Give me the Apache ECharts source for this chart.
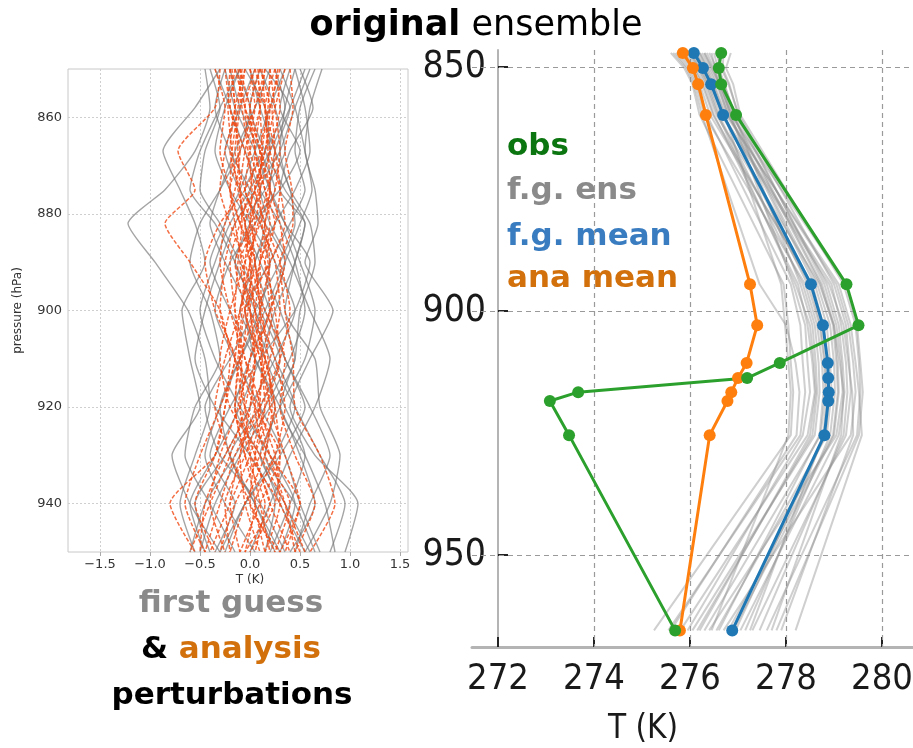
<!DOCTYPE html>
<html>
<head>
<meta charset="utf-8">
<script src="https://cdn.jsdelivr.net/npm/echarts@6/dist/echarts.min.js"></script>
<style>
  html, body { margin: 0; padding: 0; background: #fff; }
  #chart { width: 913px; height: 748px; }
</style>
</head>
<body>
<div id="chart"></div>
<script>
// ---- Left panel: temperature perturbations (K) on pressure levels (hPa) ----
const pertLevels = [850, 858, 867, 875, 882, 890, 900, 910, 920, 930, 940, 950];

// first-guess ensemble perturbations
const fgPerts = [
  [-0.45, -0.40, -0.55, -0.85, -1.22, -0.95, -0.62, -0.45, -0.40, -0.55, -0.70, -0.55],
  [-0.30, -0.55, -0.87, -0.70, -0.55, -0.45, -0.68, -0.60, -0.50, -0.78, -0.60, -0.30],
  [0.72, 0.60, 0.55, 0.65, 0.68, 0.55, 0.83, 0.60, 0.40, 0.65, 1.08, 0.95],
  [0.50, 0.63, 0.40, 0.30, 0.55, 0.45, 0.35, 0.65, 0.70, 0.90, 0.80, 0.55],
  [-0.20, -0.10, 0.10, 0.25, 0.05, -0.20, -0.35, -0.15, 0.10, 0.35, 0.50, 0.70],
  [0.10, 0.25, 0.35, 0.15, -0.05, 0.10, 0.30, 0.45, 0.20, -0.10, -0.35, -0.50],
  [-0.10, -0.25, -0.35, -0.20, 0.00, 0.20, 0.10, -0.10, -0.30, -0.45, -0.25, 0.05],
  [0.35, 0.20, 0.05, -0.10, -0.25, -0.40, -0.20, 0.05, 0.30, 0.50, 0.65, 0.40],
  [0.00, 0.10, 0.25, 0.40, 0.45, 0.30, 0.05, -0.20, -0.45, -0.30, 0.10, 0.35],
  [-0.35, -0.20, -0.05, 0.10, 0.30, 0.45, 0.55, 0.40, 0.15, -0.15, -0.45, -0.60],
  [0.60, 0.45, 0.30, 0.10, 0.20, 0.40, 0.60, 0.80, 0.65, 0.40, 0.20, 0.00],
  [0.20, 0.05, -0.15, -0.30, -0.40, -0.25, 0.00, 0.20, 0.45, 0.70, 0.95, 0.80],
  [-0.05, 0.15, 0.20, 0.05, -0.15, -0.30, -0.45, -0.55, -0.35, 0.00, 0.25, 0.15],
  [0.45, 0.55, 0.60, 0.45, 0.25, 0.05, 0.20, 0.35, 0.55, 0.30, -0.05, -0.25],
  [-0.25, -0.35, -0.20, 0.00, 0.15, 0.05, -0.10, 0.15, 0.35, 0.55, 0.40, 0.20],
  [0.25, 0.35, 0.15, -0.05, 0.10, 0.25, 0.45, 0.25, 0.00, -0.25, -0.55, -0.40],
  [-0.15, 0.00, -0.10, -0.30, -0.50, -0.60, -0.40, -0.30, -0.55, -0.65, -0.40, -0.15],
  [0.65, 0.50, 0.45, 0.55, 0.40, 0.20, -0.05, 0.05, 0.25, 0.15, 0.45, 0.65],
  [0.05, -0.10, -0.25, -0.10, 0.15, 0.35, 0.20, 0.00, -0.15, 0.10, 0.30, 0.55],
  [0.40, 0.30, 0.50, 0.30, 0.00, -0.15, 0.10, 0.30, 0.10, -0.20, 0.05, 0.30],
  [-0.40, -0.30, -0.45, -0.50, -0.30, -0.10, 0.15, 0.35, 0.60, 0.80, 0.60, 0.45],
  [0.15, 0.40, 0.25, 0.20, 0.35, 0.60, 0.45, 0.10, -0.20, -0.40, -0.15, -0.35],
  [0.30, 0.45, 0.55, 0.62, 0.50, 0.35, 0.15, -0.10, -0.30, -0.20, 0.05, 0.25],
  [-0.25, -0.15, 0.05, 0.20, 0.35, 0.50, 0.65, 0.55, 0.30, 0.10, 0.35, 0.60],
  [0.55, 0.40, 0.20, 0.00, -0.20, -0.35, -0.50, -0.35, -0.10, 0.20, 0.45, 0.30],
  [-0.10, -0.30, -0.50, -0.60, -0.35, -0.15, 0.05, 0.25, 0.45, 0.25, -0.05, -0.30],
  [0.10, 0.00, 0.15, 0.35, 0.55, 0.45, 0.25, 0.10, -0.10, -0.35, -0.60, -0.45],
  [0.45, 0.35, 0.30, 0.40, 0.60, 0.65, 0.50, 0.45, 0.30, 0.55, 0.75, 0.85]
];

// analysis ensemble perturbations
const anaPerts = [
  [-0.30, -0.35, -0.72, -0.55, -0.85, -0.60, -0.30, -0.20, -0.25, -0.35, -0.80, -0.55],
  [0.40, 0.43, 0.35, 0.42, 0.43, 0.30, 0.35, 0.43, 0.45, 0.70, 0.85, 0.60],
  [-0.15, -0.05, 0.05, 0.00, -0.10, -0.20, -0.15, -0.05, 0.05, -0.15, -0.30, -0.45],
  [-0.05, -0.10, -0.15, -0.05, 0.05, 0.00, -0.10, -0.15, -0.25, -0.35, -0.55, -0.35],
  [0.00, 0.05, -0.05, -0.10, -0.05, 0.05, 0.10, 0.00, -0.10, 0.05, 0.20, 0.40],
  [0.10, 0.00, 0.05, 0.15, 0.20, 0.10, 0.00, 0.10, 0.20, 0.35, 0.50, 0.30],
  [0.25, 0.30, 0.20, 0.10, 0.00, 0.15, 0.25, 0.30, 0.15, 0.00, -0.20, -0.40],
  [-0.20, -0.15, -0.25, -0.30, -0.20, -0.05, 0.05, 0.15, 0.25, 0.30, 0.10, -0.10],
  [0.30, 0.20, 0.10, 0.20, 0.30, 0.35, 0.20, 0.05, -0.05, -0.20, -0.40, -0.60],
  [-0.10, 0.00, 0.10, 0.20, 0.10, -0.05, -0.20, -0.30, -0.20, 0.10, 0.35, 0.55],
  [0.15, 0.10, 0.00, -0.05, 0.10, 0.25, 0.30, 0.20, 0.05, 0.15, 0.40, 0.25],
  [-0.25, -0.20, -0.10, -0.15, -0.25, -0.30, -0.20, -0.05, 0.10, -0.05, -0.25, -0.20],
  [0.05, 0.15, 0.25, 0.30, 0.25, 0.10, 0.05, -0.10, -0.15, -0.05, 0.15, 0.05],
  [0.20, 0.25, 0.30, 0.25, 0.15, 0.20, 0.10, 0.25, 0.35, 0.25, 0.05, 0.15],
  [-0.05, -0.15, -0.20, -0.10, 0.00, -0.15, -0.05, 0.05, 0.00, -0.25, -0.45, -0.50],
  [0.35, 0.25, 0.15, 0.05, -0.05, 0.00, 0.15, 0.35, 0.30, 0.45, 0.65, 0.45],
  [-0.35, -0.25, -0.30, -0.20, -0.10, 0.00, -0.10, -0.25, -0.35, -0.20, 0.00, 0.25],
  [0.10, 0.20, 0.15, 0.05, 0.15, 0.30, 0.40, 0.30, 0.10, -0.10, -0.05, 0.10],
  [-0.15, -0.20, -0.05, 0.05, -0.15, -0.25, -0.30, -0.15, -0.05, 0.20, 0.50, 0.35],
  [0.05, -0.05, 0.00, 0.10, 0.05, -0.10, 0.00, 0.15, 0.25, 0.10, -0.15, -0.30],
  [0.25, 0.15, 0.20, 0.30, 0.35, 0.20, -0.05, -0.10, 0.05, 0.30, 0.25, 0.00],
  [-0.10, -0.05, 0.10, -0.05, -0.30, -0.45, -0.35, -0.15, -0.30, -0.50, -0.65, -0.45],
  [0.00, 0.10, 0.05, 0.15, 0.25, 0.15, 0.20, 0.00, -0.10, 0.00, 0.30, 0.50],
  [0.15, 0.05, -0.10, -0.20, -0.10, 0.05, -0.05, 0.10, 0.15, 0.05, 0.20, -0.05],
  [-0.18, -0.15, -0.12, -0.10, -0.08, -0.12, -0.15, -0.10, -0.05, 0.00, 0.10, 0.20],
  [0.12, 0.15, 0.18, 0.20, 0.15, 0.10, 0.12, 0.18, 0.22, 0.15, -0.05, -0.20],
  [-0.08, -0.12, -0.18, -0.20, -0.15, -0.08, 0.00, 0.05, 0.00, -0.10, -0.20, -0.10],
  [0.20, 0.18, 0.12, 0.10, 0.12, 0.18, 0.22, 0.15, 0.08, 0.20, 0.35, 0.45],
  [-0.12, -0.08, -0.02, 0.02, 0.00, -0.05, -0.08, -0.12, -0.15, -0.05, 0.05, -0.05],
  [0.08, 0.10, 0.12, 0.08, 0.02, 0.05, 0.10, 0.12, 0.10, 0.25, 0.30, 0.15],
  [-0.20, -0.22, -0.18, -0.12, -0.05, 0.02, -0.02, -0.08, -0.12, -0.30, -0.40, -0.25],
  [0.28, 0.22, 0.25, 0.18, 0.08, 0.00, 0.05, 0.12, 0.20, 0.05, 0.00, 0.30]
];

// ---- Right panel: temperature profiles (K) ----
const profileLevels = [847.1, 850.2, 853.5, 859.8, 894.5, 902.9, 910.6, 913.7, 916.6, 918.4, 925.4, 965.4];
const obsT      = [276.65, 276.60, 276.65, 276.96, 279.26, 279.51, 277.87, 277.19, 273.67, 273.08, 273.48, 275.69];
const fgMeanT   = [276.08, 276.27, 276.44, 276.69, 278.52, 278.77, 278.87, 278.88, 278.89, 278.88, 278.80, 276.88];
const anaMeanT  = [275.85, 276.06, 276.17, 276.33, 277.25, 277.40, 277.18, 277.00, 276.86, 276.78, 276.41, 275.79];

const memberLevels = [847.1, 850.2, 853.5, 859.8, 894.5, 902.9, 910.6, 916.6, 925.4, 965.4];
const fgMembers = [
  [275.60, 275.88, 276.05, 276.20, 277.95, 278.05, 278.10, 278.15, 278.10, 275.25],
  [275.75, 276.00, 276.15, 276.35, 278.10, 278.30, 278.35, 278.40, 278.30, 275.55],
  [275.90, 276.10, 276.28, 276.50, 278.25, 278.45, 278.55, 278.60, 278.45, 275.80],
  [276.00, 276.20, 276.38, 276.60, 278.35, 278.60, 278.68, 278.70, 278.60, 276.05],
  [276.10, 276.30, 276.45, 276.70, 278.45, 278.70, 278.80, 278.82, 278.72, 276.30],
  [276.20, 276.38, 276.55, 276.80, 278.60, 278.85, 278.92, 278.95, 278.85, 276.55],
  [276.30, 276.47, 276.62, 276.88, 278.72, 278.98, 279.05, 279.08, 278.98, 276.80],
  [276.40, 276.55, 276.70, 276.95, 278.85, 279.10, 279.18, 279.22, 279.10, 277.05],
  [276.55, 276.65, 276.80, 277.02, 279.00, 279.25, 279.32, 279.35, 279.25, 277.30],
  [276.85, 276.75, 276.90, 277.05, 279.20, 279.45, 279.52, 279.55, 279.48, 277.60],
  [276.20, 276.35, 276.50, 276.75, 279.10, 279.35, 279.45, 279.52, 279.58, 278.20],
  [276.05, 276.22, 276.40, 276.65, 278.90, 279.20, 279.30, 279.38, 279.40, 277.90],
  [275.95, 276.15, 276.32, 276.55, 278.70, 279.00, 279.12, 279.20, 279.15, 277.70],
  [276.60, 276.60, 276.72, 276.92, 278.30, 278.55, 278.62, 278.65, 278.55, 276.15],
  [276.45, 276.52, 276.65, 276.85, 278.15, 278.40, 278.45, 278.50, 278.35, 275.95],
  [276.15, 276.32, 276.48, 276.72, 277.90, 277.98, 278.05, 278.10, 278.05, 276.45],
  [275.70, 275.95, 276.12, 276.30, 278.40, 278.65, 278.75, 278.78, 278.70, 276.60],
  [275.80, 276.05, 276.20, 276.42, 278.55, 278.78, 278.88, 278.90, 278.82, 276.95],
  [276.35, 276.50, 276.60, 276.82, 278.65, 278.92, 279.00, 279.02, 278.92, 277.15],
  [276.25, 276.42, 276.58, 276.78, 279.05, 279.30, 279.40, 279.45, 279.35, 276.70],
  [276.70, 276.68, 276.82, 277.00, 278.80, 279.05, 279.15, 279.18, 279.05, 276.40],
  [276.00, 276.18, 276.35, 276.58, 278.20, 278.50, 278.58, 278.62, 278.50, 276.20],
  [276.12, 276.28, 276.45, 276.68, 278.95, 279.15, 279.25, 279.28, 279.20, 277.45],
  [275.85, 276.08, 276.25, 276.48, 278.50, 278.72, 278.82, 278.85, 278.78, 277.25],
  [276.50, 276.58, 276.68, 276.90, 278.75, 279.00, 279.08, 279.10, 279.00, 276.90],
  [276.30, 276.45, 276.62, 276.85, 279.25, 279.48, 279.55, 279.60, 279.52, 277.80],
  [275.65, 275.92, 276.08, 276.25, 277.45, 278.00, 278.20, 278.28, 278.22, 275.60]
];

// ---- tick labels ----
const leftXTicks = [-1.5, -1.0, -0.5, 0.0, 0.5, 1.0, 1.5];
const leftYTicks = [860, 880, 900, 920, 940];
const rightXTicks = [272, 274, 276, 278, 280];
const rightYTicks = [850, 900, 950];

const COLORS = {
  obs: '#2ca02c', obsText: '#0b7510',
  mean: '#1f77b4', meanText: '#3a7cc0',
  ana: '#ff7f0e', anaText: '#d2700c',
  ens: '#8a8a8a'
};
const NARROW = '"Liberation Sans Narrow", "DejaVu Sans Condensed", "Liberation Sans", sans-serif';
const SANS = '"DejaVu Sans", sans-serif';

const isTick = (v, ticks) => ticks.some(t => Math.abs(t - v) < 1e-6);
const signed = v => (v < -1e-9 ? '\u2212' : '') + Math.abs(v).toFixed(1);
const pairs = (temps, levels) => temps.map((t, i) => [t, levels[i]]);

const series = [];

// first-guess perturbations (solid grey)
fgPerts.forEach((p, k) => series.push({
  name: 'fg pert ' + k, type: 'line', xAxisIndex: 0, yAxisIndex: 0,
  data: pairs(p, pertLevels), showSymbol: false, smooth: 0.2, silent: true,
  lineStyle: { color: 'rgba(118,118,118,0.66)', width: 1.4 }, z: 2
}));
// analysis perturbations (dashed orange-red)
anaPerts.forEach((p, k) => series.push({
  name: 'ana pert ' + k, type: 'line', xAxisIndex: 0, yAxisIndex: 0,
  data: pairs(p, pertLevels), showSymbol: false, smooth: 0.2, silent: true,
  lineStyle: { color: 'rgba(240,74,20,0.8)', width: 1.5, type: [4, 2] }, z: 3
}));

// first-guess members
fgMembers.forEach((m, k) => series.push({
  name: 'member ' + k, type: 'line', xAxisIndex: 1, yAxisIndex: 1,
  data: pairs(m, memberLevels), showSymbol: false, silent: true,
  lineStyle: { color: 'rgba(140,140,140,0.42)', width: 2 }, z: 2,
  markLine: k === 0 ? {
    silent: true, symbol: ['none', 'none'], z: 1, animation: false,
    label: { show: false },
    lineStyle: { color: '#9a9a9a', width: 1.2, type: [5, 4] },
    data: rightXTicks.slice(1).map(v => ({ xAxis: v })).concat(rightYTicks.map(v => ({ yAxis: v })))
  } : undefined
}));

const profile = (name, temps, color) => ({
  name, type: 'line', xAxisIndex: 1, yAxisIndex: 1,
  data: pairs(temps, profileLevels), symbol: 'circle', symbolSize: 12, showSymbol: true,
  lineStyle: { color, width: 3 }, itemStyle: { color }, z: 4
});
series.push(profile('f.g. mean', fgMeanT, COLORS.mean));
series.push(profile('ana mean', anaMeanT, COLORS.ana));
series.push(profile('obs', obsT, COLORS.obs));

const textEl = (x, y, text, fill, size, weight, align, rich) => ({
  type: 'text', x, y, silent: true,
  style: { text, fill, fontSize: size, fontWeight: weight, fontFamily: SANS,
    align: align, verticalAlign: 'middle', rich: rich }
});

const chart = echarts.init(document.getElementById('chart'), null, { renderer: 'canvas' });
chart.setOption({
  animation: false,
  backgroundColor: '#ffffff',
  grid: [
    { left: 68, top: 69, width: 340, height: 483, show: true, borderColor: '#c8c8c8', borderWidth: 1,
      backgroundColor: 'transparent', outerBoundsMode: 'none', containLabel: false },
    { left: 472, top: 50, width: 441, height: 597, show: false, outerBoundsMode: 'none', containLabel: false }
  ],
  xAxis: [
    {
      gridIndex: 0, type: 'value', min: -1.82, max: 1.58, splitNumber: 7,
      axisLine: { show: false },
      axisTick: { show: true, inside: false, length: 4, lineStyle: { color: '#aaa' }, customValues: leftXTicks },
      axisLabel: { color: '#333', fontSize: 13, fontFamily: SANS, margin: 6, customValues: leftXTicks,
        formatter: v => isTick(v, leftXTicks) ? signed(v) : '' },
      splitLine: { show: true, lineStyle: { color: '#cfcfcf', type: [2, 2], width: 1 } }
    },
    {
      gridIndex: 1, type: 'value', min: 271.458, max: 280.646,
      axisLine: { show: true, lineStyle: { color: '#b4b4b4', width: 3 } },
      axisTick: { show: true, inside: true, length: 10, lineStyle: { color: '#222', width: 2 }, customValues: rightXTicks },
      axisLabel: { color: '#1a1a1a', fontSize: 36, fontFamily: NARROW, margin: 15, customValues: rightXTicks,
        formatter: v => isTick(v, rightXTicks) ? String(Math.round(v)) : '' },
      splitLine: { show: false }
    }
  ],
  yAxis: [
    {
      gridIndex: 0, type: 'value', inverse: true, min: 850, max: 950, splitNumber: 5,
      axisLine: { show: false },
      axisTick: { show: true, inside: false, length: 4, lineStyle: { color: '#aaa' }, customValues: leftYTicks },
      axisLabel: { color: '#333', fontSize: 13, fontFamily: SANS, margin: 6, customValues: leftYTicks,
        formatter: v => isTick(v, leftYTicks) ? String(Math.round(v)) : '' },
      splitLine: { show: true, lineStyle: { color: '#cfcfcf', type: [2, 2], width: 1 } },
      name: 'pressure (hPa)', nameLocation: 'middle', nameGap: 44, nameRotate: 90,
      nameTextStyle: { color: '#333', fontSize: 12, fontFamily: SANS }
    },
    {
      gridIndex: 1, type: 'value', inverse: true, min: 846.5, max: 968.8, offset: -26,
      axisLine: { show: true, lineStyle: { color: '#b4b4b4', width: 2 } },
      axisTick: { show: true, inside: true, length: 10, lineStyle: { color: '#222', width: 2 }, customValues: rightYTicks },
      axisLabel: { color: '#1a1a1a', fontSize: 37, fontFamily: NARROW, margin: 12, customValues: rightYTicks,
        formatter: v => isTick(v, rightYTicks) ? String(Math.round(v)) : '' },
      splitLine: { show: false }
    }
  ],
  graphic: [
    textEl(476, 26, '{b|original} ensemble', '#000', 35, 'normal', 'center',
      { b: { fontWeight: 'bold', fontSize: 35, fontFamily: SANS, fill: '#000' } }),
    textEl(507, 147, 'obs', COLORS.obsText, 31, 'bold', 'left'),
    textEl(507, 191, 'f.g. ens', COLORS.ens, 31, 'bold', 'left'),
    textEl(507, 237, 'f.g. mean', COLORS.meanText, 31, 'bold', 'left'),
    textEl(507, 279, 'ana mean', COLORS.anaText, 31, 'bold', 'left'),
    textEl(231, 604, 'first guess', COLORS.ens, 31, 'bold', 'center'),
    textEl(231, 650, '& {o|analysis}', '#000', 31, 'bold', 'center',
      { o: { fill: COLORS.anaText, fontSize: 31, fontWeight: 'bold', fontFamily: SANS } }),
    textEl(232, 696, 'perturbations', '#000', 31, 'bold', 'center'),
    // axis titles
    { type: 'text', x: 250, y: 580, silent: true,
      style: { text: 'T (K)', fill: '#333', fontSize: 12, fontFamily: SANS, align: 'center', verticalAlign: 'middle' } },
    { type: 'text', x: 643, y: 729, silent: true,
      style: { text: 'T (K)', fill: '#1a1a1a', fontSize: 33, fontFamily: NARROW, align: 'center', verticalAlign: 'middle' } }
  ],
  series
});
</script>
</body>
</html>
